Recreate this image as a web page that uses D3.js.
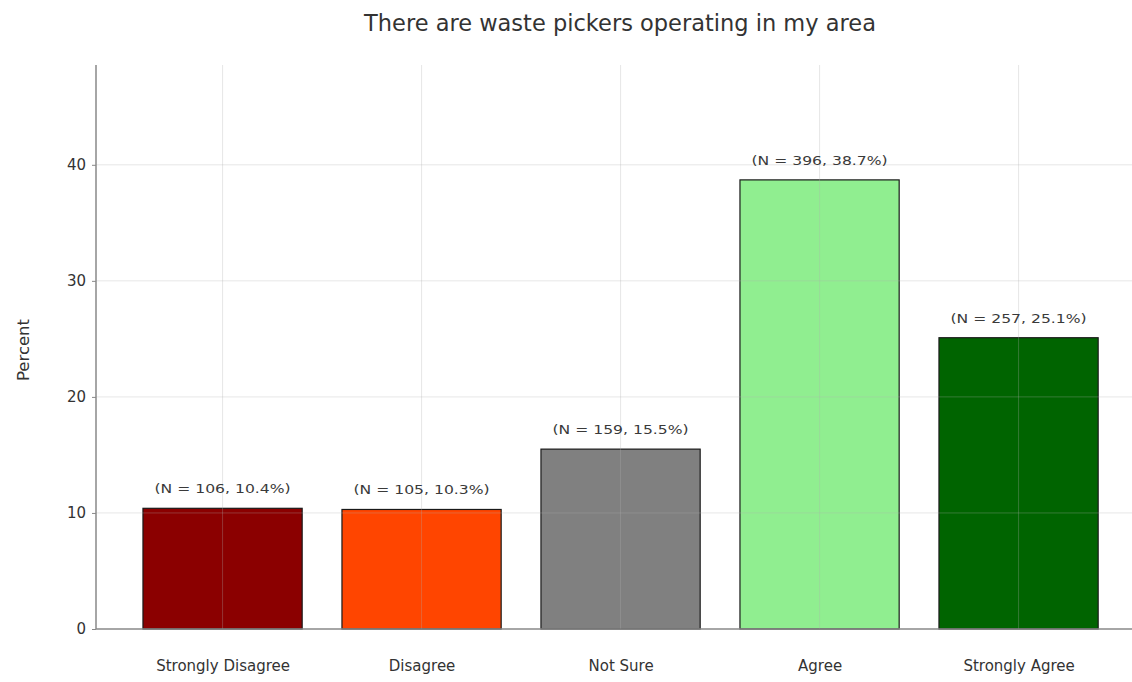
<!DOCTYPE html>
<html><head><meta charset="utf-8">
<script src="https://cdn.jsdelivr.net/npm/d3@7"></script>
<style>body{margin:0;background:#fff}svg{display:block}</style>
</head><body>
<script>
const categories = ["Strongly Disagree","Disagree","Not Sure","Agree","Strongly Agree"];
const percents = [10.4, 10.3, 15.5, 38.7, 25.1];
const counts = [106, 105, 159, 396, 257];
const colors = ["#8b0000","#ff4500","#808080","#90ee90","#006400"];
const yTicks = [0,10,20,30,40];

(function(){
const W = 1132, H = 682;
const svg = d3.select("body").append("svg").attr("width", W).attr("height", H);
const mLeft = 96, mBottom = 629, mTop = 65;
const x = d3.scaleLinear().domain([-0.636, 4.636]).range([mLeft, mLeft + 5.272*199]);
const y = d3.scaleLinear().domain([0, 48.6]).range([mBottom, mTop]);
const bw = 0.8;
const font = "'DejaVu Sans', sans-serif";

// bars
svg.selectAll("rect.bar").data(categories).enter().append("rect")
  .attr("x", (d,i) => x(i - bw/2)).attr("width", x(bw) - x(0))
  .attr("y", (d,i) => y(percents[i])).attr("height", (d,i) => y(0) - y(percents[i]))
  .attr("fill", (d,i) => colors[i]).attr("stroke", "#1a1a1a").attr("stroke-width", 1.2);

// grid (over bars, translucent)
const g = svg.append("g");
g.selectAll("line.h").data(yTicks.slice(1)).enter().append("line")
  .attr("x1", mLeft).attr("x2", W).attr("y1", d => y(d)).attr("y2", d => y(d))
  .attr("stroke", "#b0b0b0").attr("stroke-opacity", 0.3).attr("stroke-width", 1);
g.selectAll("line.v").data(categories).enter().append("line")
  .attr("x1", (d,i) => x(i)).attr("x2", (d,i) => x(i)).attr("y1", mTop).attr("y2", mBottom)
  .attr("stroke", "#b0b0b0").attr("stroke-opacity", 0.3).attr("stroke-width", 1);

// axes
const yAxis = d3.axisLeft(y).tickValues(yTicks).tickSize(4).tickPadding(6);
const ya = svg.append("g").attr("transform", `translate(${mLeft},0)`).call(yAxis);
ya.select(".domain").remove();
ya.selectAll("line").attr("stroke", "#888");
ya.selectAll("text").attr("font-family", font).attr("font-size", 15).attr("fill", "#333");
svg.append("line").attr("x1", mLeft).attr("x2", mLeft).attr("y1", mTop).attr("y2", mBottom)
  .attr("stroke", "#888").attr("stroke-width", 1.5);

const xAxis = d3.axisBottom(x).tickValues(d3.range(categories.length)).tickFormat(i => categories[i]).tickSize(0).tickPadding(31);
const xa = svg.append("g").attr("transform", `translate(0,${mBottom})`).call(xAxis);
xa.select(".domain").remove();
xa.selectAll("text").attr("font-family", font).attr("font-size", 15).attr("fill", "#333");
svg.append("line").attr("x1", mLeft).attr("x2", W).attr("y1", mBottom).attr("y2", mBottom)
  .attr("stroke", "#888").attr("stroke-width", 1.5);

// annotations
svg.selectAll("text.ann").data(categories).enter().append("text")
  .attr("transform", (d,i) => `translate(${x(i)},${y(percents[i]) - 15}) scale(1.25,1)`)
  .attr("text-anchor", "middle").attr("font-family", font).attr("font-size", 12.5).attr("fill", "#3a3a3a")
  .text((d,i) => `(N = ${counts[i]}, ${percents[i].toFixed(1)}%)`);

// title
svg.append("text").attr("x", 620).attr("y", 31).attr("text-anchor", "middle")
  .attr("font-family", font).attr("font-size", 22.5).attr("fill", "#333")
  .text("There are waste pickers operating in my area");
svg.append("text").attr("transform", "translate(29,350) rotate(-90)").attr("text-anchor", "middle")
  .attr("font-family", font).attr("font-size", 16.5).attr("fill", "#333").text("Percent");
})();
</script>
</body></html>
